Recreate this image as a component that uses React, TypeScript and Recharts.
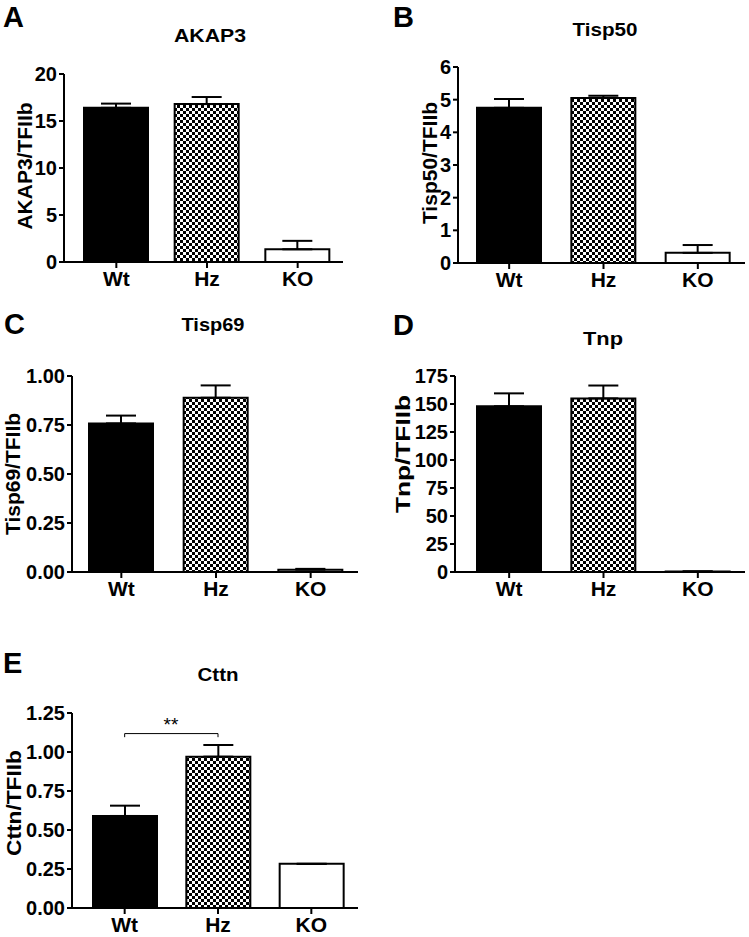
import type { ReactNode } from 'react';
import { BarChart, Bar, XAxis, YAxis, ErrorBar, Cell, ReferenceLine } from 'recharts';

const GROUPS = ['Wt', 'Hz', 'KO'];

const AKAP3_MEAN = [16.4, 16.8, 1.35];
const AKAP3_SEM = [0.45, 0.75, 0.9];
const AKAP3_TICKS = [0, 5, 10, 15, 20];

const TISP50_MEAN = [4.75, 5.05, 0.31];
const TISP50_SEM = [0.27, 0.07, 0.24];
const TISP50_TICKS = [0, 1, 2, 3, 4, 5, 6];

const TISP69_MEAN = [0.758, 0.889, 0.012];
const TISP69_SEM = [0.04, 0.063, 0.004];
const TISP69_TICKS = [0, 0.25, 0.5, 0.75, 1];

const TNP_MEAN = [148, 155, 0.5];
const TNP_SEM = [11.5, 11.5, 0];
const TNP_TICKS = [0, 25, 50, 75, 100, 125, 150, 175];

const CTTN_MEAN = [0.59, 0.97, 0.283];
const CTTN_SEM = [0.066, 0.075, 0];
const CTTN_TICKS = [0, 0.25, 0.5, 0.75, 1, 1.25];

// Wt solid black, Hz checkerboard, KO open
const FILLS = ['#000', 'url(#checker)', '#fff'];

const FONT = 'Arial, "Liberation Sans", sans-serif';
const AXIS = { stroke: '#000', strokeWidth: 2 };

type Box = { left: number; top: number; width: number; height: number };
type Margin = { top: number; right: number; bottom: number; left: number };

type PanelProps = {
  mean: number[];
  sem: number[];
  ticks: number[];
  decimals: number;
  box: Box;
  margin: Margin;
  yWidth: number;
  xHeight: number;
  padLeft: number;
  children?: ReactNode;
};

function Panel({ mean, sem, ticks, decimals, box, margin, yWidth, xHeight, padLeft, children }: PanelProps) {
  const data = GROUPS.map((name, i) => ({ name, mean: mean[i], err: [0, sem[i]] }));
  return (
    <div style={{ position: 'absolute', left: box.left, top: box.top }}>
      <BarChart width={box.width} height={box.height} data={data} margin={margin}>
        <XAxis
          dataKey="name"
          height={xHeight}
          padding={{ left: padLeft, right: 0 }}
          axisLine={AXIS}
          tickLine={AXIS}
          tickSize={6}
          tickMargin={3}
          interval={0}
          tick={{ fill: '#000', fontSize: 21, fontWeight: 700, fontFamily: FONT }}
        />
        <YAxis
          width={yWidth}
          domain={[0, ticks[ticks.length - 1]]}
          ticks={ticks}
          interval={0}
          axisLine={AXIS}
          tickLine={AXIS}
          tickSize={5}
          tickMargin={2}
          tickFormatter={(v: number) => v.toFixed(decimals)}
          tick={{ fill: '#000', fontSize: 20, fontWeight: 700, fontFamily: FONT }}
        />
        <Bar dataKey="mean" barSize={64} isAnimationActive={false}>
          {data.map((d, i) => (
            <Cell key={d.name} fill={FILLS[i]} stroke="#000" strokeWidth={2} />
          ))}
          <ErrorBar dataKey="err" direction="y" width={15} stroke="#000" strokeWidth={2} isAnimationActive={false} />
        </Bar>
        {children}
      </BarChart>
    </div>
  );
}

const bold = { fontFamily: FONT, fontWeight: 700, fill: '#000' };

export default function App() {
  return (
    <div style={{ position: 'absolute', left: 0, top: 0, width: 749, height: 937, background: '#fff', overflow: 'hidden' }}>
      <Panel
        mean={AKAP3_MEAN}
        sem={AKAP3_SEM}
        ticks={AKAP3_TICKS}
        decimals={0}
        box={{ left: 0, top: 0, width: 370, height: 300 }}
        margin={{ top: 74, right: 27, bottom: 8, left: 0 }}
        yWidth={64}
        xHeight={30}
        padLeft={7}
      />
      <Panel
        mean={TISP50_MEAN}
        sem={TISP50_SEM}
        ticks={TISP50_TICKS}
        decimals={0}
        box={{ left: 370, top: 0, width: 379, height: 300 }}
        margin={{ top: 67, right: 4, bottom: 7, left: 0 }}
        yWidth={88}
        xHeight={30}
        padLeft={4}
      />
      <Panel
        mean={TISP69_MEAN}
        sem={TISP69_SEM}
        ticks={TISP69_TICKS}
        decimals={2}
        box={{ left: 0, top: 300, width: 370, height: 310 }}
        margin={{ top: 76, right: 12, bottom: 8, left: 0 }}
        yWidth={72}
        xHeight={30}
        padLeft={2}
      />
      <Panel
        mean={TNP_MEAN}
        sem={TNP_SEM}
        ticks={TNP_TICKS}
        decimals={0}
        box={{ left: 370, top: 300, width: 379, height: 310 }}
        margin={{ top: 76, right: 4, bottom: 8, left: 0 }}
        yWidth={85}
        xHeight={30}
        padLeft={7}
      />
      <Panel
        mean={CTTN_MEAN}
        sem={CTTN_SEM}
        ticks={CTTN_TICKS}
        decimals={2}
        box={{ left: 0, top: 620, width: 370, height: 317 }}
        margin={{ top: 93, right: 12, bottom: 0, left: 0 }}
        yWidth={72}
        xHeight={29}
        padLeft={6}
      >
        {/* significance bracket Wt vs Hz */}
        <ReferenceLine segment={[{ x: 'Wt', y: 1.118 }, { x: 'Hz', y: 1.118 }]} stroke="#000" strokeWidth={1} />
        <ReferenceLine segment={[{ x: 'Wt', y: 1.095 }, { x: 'Wt', y: 1.118 }]} stroke="#000" strokeWidth={1} />
        <ReferenceLine segment={[{ x: 'Hz', y: 1.095 }, { x: 'Hz', y: 1.118 }]} stroke="#000" strokeWidth={1} />
      </Panel>

      <svg width={749} height={937} style={{ position: 'absolute', left: 0, top: 0, pointerEvents: 'none' }}>
        <defs>
          <pattern id="checker" width={6} height={6} patternUnits="userSpaceOnUse">
            <rect width={6} height={6} fill="#fff" />
            <rect width={3} height={3} fill="#000" />
            <rect x={3} y={3} width={3} height={3} fill="#000" />
          </pattern>
        </defs>

        <text x={3} y={27} fontSize={29} {...bold}>A</text>
        <text x={393} y={27} fontSize={29} {...bold}>B</text>
        <text x={4} y={334} fontSize={29} {...bold}>C</text>
        <text x={393} y={335} fontSize={29} {...bold}>D</text>
        <text x={3} y={673} fontSize={29} {...bold}>E</text>

        <text x={210} y={42} fontSize={18} textAnchor="middle" textLength={72} lengthAdjust="spacingAndGlyphs" {...bold}>AKAP3</text>
        <text x={605} y={36} fontSize={18} textAnchor="middle" textLength={65} lengthAdjust="spacingAndGlyphs" {...bold}>Tisp50</text>
        <text x={213} y={331} fontSize={18} textAnchor="middle" textLength={63} lengthAdjust="spacingAndGlyphs" {...bold}>Tisp69</text>
        <text x={603} y={345} fontSize={18} textAnchor="middle" textLength={40} lengthAdjust="spacingAndGlyphs" {...bold}>Tnp</text>
        <text x={218} y={681} fontSize={18} textAnchor="middle" textLength={41} lengthAdjust="spacingAndGlyphs" {...bold}>Cttn</text>

        <text x={32} y={166} fontSize={21} textAnchor="middle" transform="rotate(-90 32 166)" {...bold}>AKAP3/TFIIb</text>
        <text x={437} y={163} fontSize={21} textAnchor="middle" transform="rotate(-90 437 163)" {...bold}>Tisp50/TFIIb</text>
        <text x={20} y={474} fontSize={21} textAnchor="middle" transform="rotate(-90 20 474)" {...bold}>Tisp69/TFIIb</text>
        <text x={410} y={454} fontSize={21} textAnchor="middle" textLength={118} lengthAdjust="spacingAndGlyphs" transform="rotate(-90 410 454)" {...bold}>Tnp/TFIIb</text>
        <text x={21} y={803} fontSize={21} textAnchor="middle" textLength={106} lengthAdjust="spacingAndGlyphs" transform="rotate(-90 21 803)" {...bold}>Cttn/TFIIb</text>

        <text x={171} y={731} fontSize={19} textAnchor="middle" fontFamily={FONT} fill="#000">**</text>
      </svg>
    </div>
  );
}
